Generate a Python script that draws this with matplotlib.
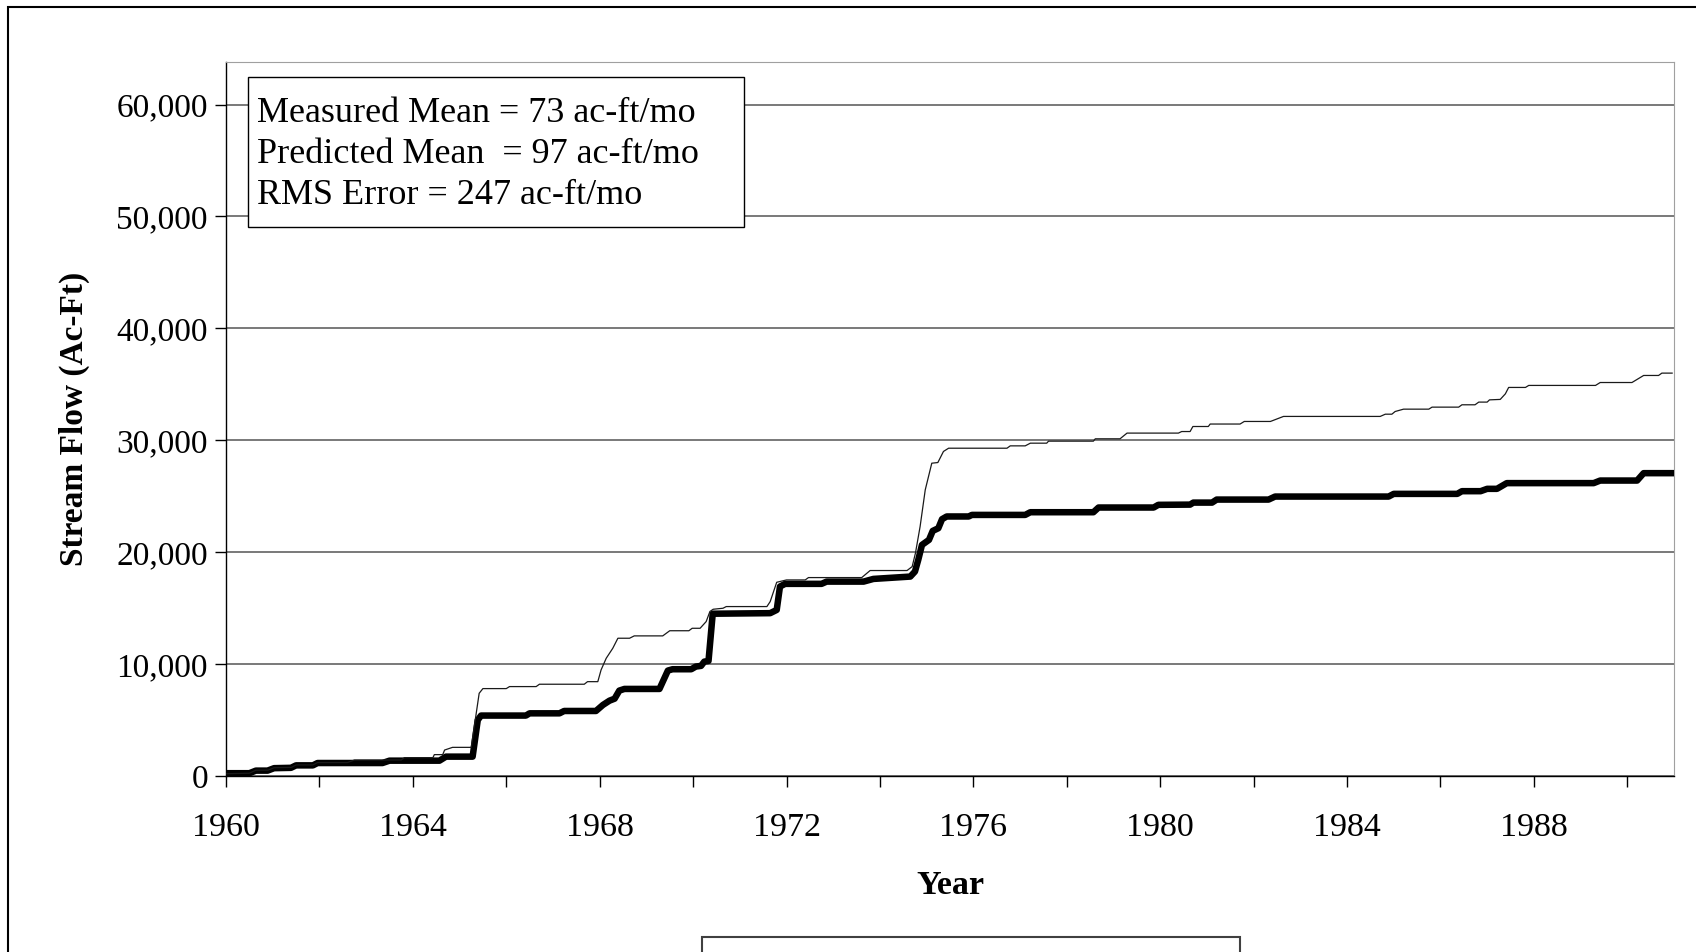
import matplotlib
matplotlib.use("Agg")
import matplotlib.pyplot as plt
from matplotlib.patches import Rectangle
from matplotlib.ticker import FuncFormatter, MultipleLocator

plt.rcParams['font.family'] = ['Liberation Serif', 'DejaVu Serif']

# Cumulative measured stream flow (ac-ft), decimal year
meas_year = [1960.0, 1960.5, 1960.64, 1960.89, 1961.03, 1961.39, 1961.5, 1961.86,
             1961.96, 1963.35, 1963.5, 1964.57, 1964.71, 1965.28, 1965.39, 1965.46,
             1966.42, 1966.5, 1967.14, 1967.24, 1967.92, 1968.07, 1968.21, 1968.32,
             1968.42, 1968.53, 1969.28, 1969.46, 1969.56, 1969.96, 1970.06, 1970.17,
             1970.24, 1970.33, 1970.42, 1971.65, 1971.79, 1971.86, 1971.97, 1972.75,
             1972.86, 1973.65, 1973.86, 1974.65, 1974.75, 1974.82, 1974.9, 1975.05,
             1975.13, 1975.25, 1975.33, 1975.43, 1975.9, 1975.97, 1977.11, 1977.22,
             1978.57, 1978.68, 1979.86, 1979.96, 1980.64, 1980.71, 1981.11, 1981.21,
             1982.32, 1982.46, 1984.89, 1985.0, 1986.36, 1986.46, 1986.86, 1987.0,
             1987.21, 1987.42, 1989.28, 1989.42, 1990.21, 1990.35, 1991.0]
meas_flow = [250, 250, 480, 480, 700, 730, 950, 950,
             1160, 1160, 1370, 1370, 1730, 1730, 5000, 5400,
             5400, 5600, 5600, 5810, 5810, 6350, 6730, 6910,
             7630, 7780, 7780, 9420, 9540, 9540, 9780, 9840,
             10220, 10280, 14500, 14550, 14840, 16930, 17170, 17170,
             17370, 17370, 17610, 17820, 18270, 19310, 20650, 21100,
             21900, 22140, 22950, 23190, 23190, 23330, 23330, 23570,
             23570, 23990, 23990, 24230, 24250, 24430, 24430, 24700,
             24700, 24970, 24970, 25210, 25210, 25450, 25450, 25660,
             25660, 26170, 26170, 26400, 26400, 27060, 27060]

# Cumulative predicted stream flow (ac-ft)
pred_year = [1960.0, 1960.5, 1960.64, 1960.9, 1961.03, 1961.4, 1961.5, 1961.86,
             1961.96, 1962.6, 1962.75, 1963.75, 1963.82, 1964.43, 1964.46, 1964.64,
             1964.68, 1964.85, 1965.25, 1965.42, 1965.5, 1966.0, 1966.07, 1966.64,
             1966.71, 1967.67, 1967.74, 1967.96, 1968.03, 1968.14, 1968.28, 1968.39,
             1968.64, 1968.74, 1969.35, 1969.5, 1969.91, 1969.98, 1970.15, 1970.28,
             1970.36, 1970.43, 1970.64, 1970.71, 1971.58, 1971.65, 1971.79, 1972.0,
             1972.4, 1972.47, 1973.61, 1973.79, 1974.58, 1974.69, 1974.76, 1974.86,
             1974.97, 1975.04, 1975.11, 1975.24, 1975.36, 1975.47, 1976.72, 1976.79,
             1977.11, 1977.22, 1977.57, 1977.61, 1978.57, 1978.61, 1979.14, 1979.29,
             1980.39, 1980.46, 1980.64, 1980.7, 1981.03, 1981.07, 1981.71, 1981.8,
             1982.36, 1982.64, 1984.71, 1984.82, 1984.96, 1985.03, 1985.21, 1985.75,
             1985.82, 1986.39, 1986.46, 1986.74, 1986.82, 1987.0, 1987.05, 1987.28,
             1987.39, 1987.46, 1987.82, 1987.89, 1989.32, 1989.42, 1990.1, 1990.35,
             1990.67, 1990.74, 1990.96]
pred_flow = [200, 250, 520, 520, 740, 770, 990, 990,
             1200, 1200, 1430, 1430, 1640, 1640, 1910, 1910,
             2320, 2560, 2560, 7390, 7810, 7810, 7990, 7990,
             8200, 8200, 8430, 8430, 9480, 10520, 11410, 12310,
             12310, 12520, 12520, 12980, 12980, 13200, 13200, 13800,
             14700, 14900, 14990, 15140, 15140, 15580, 17310, 17520,
             17520, 17730, 17730, 18360, 18360, 18710, 19910, 22290,
             25570, 26760, 27950, 28010, 29000, 29290, 29290, 29500,
             29500, 29740, 29740, 29920, 29920, 30130, 30130, 30640,
             30640, 30780, 30780, 31230, 31230, 31450, 31450, 31680,
             31680, 32130, 32130, 32330, 32330, 32570, 32780, 32780,
             32960, 32960, 33170, 33170, 33410, 33410, 33610, 33650,
             34150, 34720, 34720, 34900, 34900, 35160, 35160, 35790,
             35790, 36000, 36000]

stats_lines = ['Measured Mean = 73 ac-ft/mo',
               'Predicted Mean  = 97 ac-ft/mo',
               'RMS Error = 247 ac-ft/mo']

W, H = 1696, 952
fig = plt.figure(figsize=(W / 100, H / 100), dpi=100)
ax = fig.add_axes([226 / W, 1 - 776 / H, (1674 - 226) / W, (776 - 62) / H])

# outer chart border and the top edge of the legend box below the axis title
fig.patches.append(Rectangle((8 / W, -0.1), 1.2, 1 - 7 / H + 0.1, transform=fig.transFigure,
                             fill=False, edgecolor='black', linewidth=1.5))
fig.patches.append(Rectangle((702 / W, -0.1), (1240 - 702) / W, 0.1 + 1 - 937 / H,
                             transform=fig.transFigure, facecolor='white',
                             edgecolor='#404040', linewidth=1.5))

ax.plot(meas_year, meas_flow, color='black', linewidth=4.7, zorder=3)
ax.plot(pred_year, pred_flow, color='#1a1a1a', linewidth=0.9, zorder=4)

ax.set_xlim(1960, 1991)
ax.set_ylim(0, 63800)
ax.yaxis.set_major_locator(MultipleLocator(10000))
ax.yaxis.set_major_formatter(FuncFormatter(lambda v, p: f'{int(v):,}'))
ax.xaxis.set_major_locator(MultipleLocator(2))
ax.xaxis.set_major_formatter(FuncFormatter(lambda v, p: f'{int(round(v))}' if round(v) % 4 == 0 else ''))
ax.grid(axis='y', color='#555555', linewidth=1.1)
ax.set_axisbelow(True)

for s in ['top', 'right']:
    ax.spines[s].set_color('#a0a0a0')
for s in ['left', 'bottom']:
    ax.spines[s].set_color('black')
    ax.spines[s].set_linewidth(1.0)

ax.tick_params(axis='both', direction='out', length=8, width=1.0, labelsize=24.5)
ax.tick_params(axis='x', pad=18)
ax.tick_params(axis='y', pad=5, labelsize=24)

ax.set_xlabel('Year', fontsize=24.5, fontweight='bold', labelpad=20)
ax.set_ylabel('Stream Flow (Ac-Ft)', fontsize=24, fontweight='bold', labelpad=19)

# statistics box
ax.add_patch(Rectangle((22 / 1448, (776 - 227) / 714), (744 - 248) / 1448, 150 / 714,
                       transform=ax.transAxes, facecolor='white', edgecolor='black',
                       linewidth=1.0, zorder=5))
for i, line in enumerate(stats_lines):
    ax.text(31 / 1448, (776 - 113 - 41.5 * i) / 714, line, transform=ax.transAxes,
            fontsize=26, va='center', ha='left', zorder=6)

fig.savefig('out.png', dpi=100)
